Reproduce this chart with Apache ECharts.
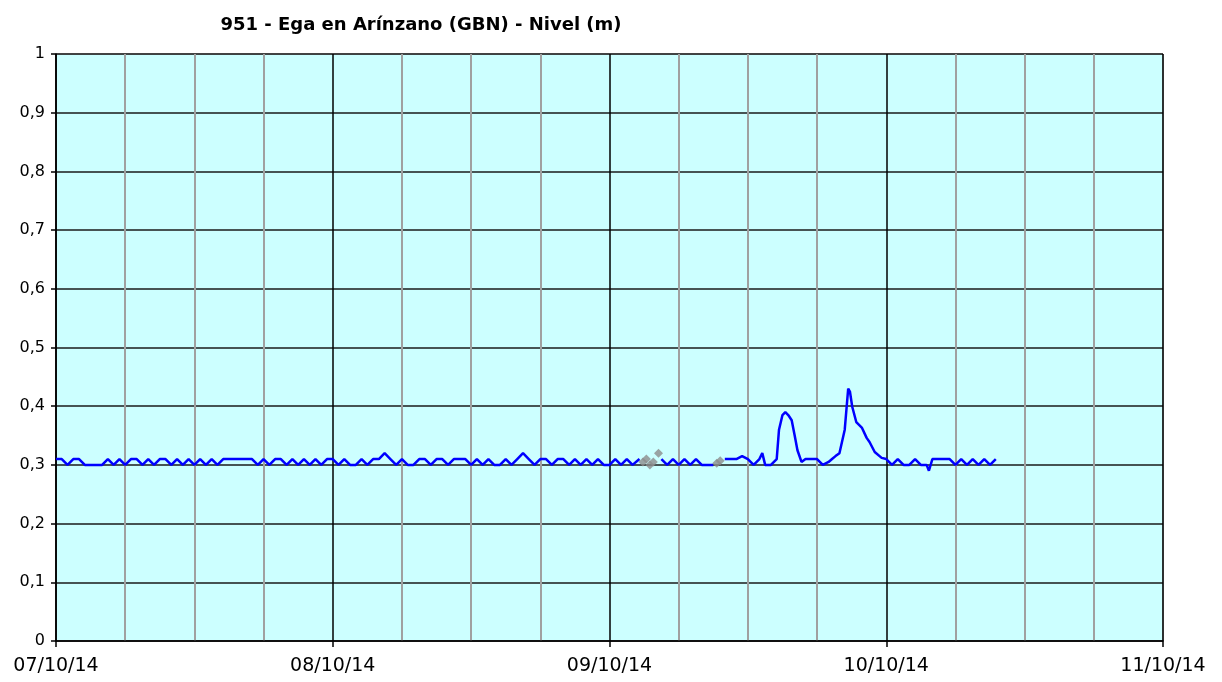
<!DOCTYPE html>
<html>
<head>
<meta charset="utf-8">
<script src="https://cdn.jsdelivr.net/npm/echarts@6/dist/echarts.min.js"></script>
<style>
  html, body { margin: 0; padding: 0; background: #fff; }
  #chart { width: 1222px; height: 682px; }
</style>
</head>
<body>
<div id="chart"></div>
<script>
// hours since 07/10/14 00:00, level in m
var day1 = [
  [0, 0.31], [0.5, 0.31], [1, 0.30], [1.5, 0.31], [2, 0.31], [2.5, 0.30], [3, 0.30], [3.5, 0.30],
  [4, 0.30], [4.5, 0.31], [5, 0.30], [5.5, 0.31], [6, 0.30], [6.5, 0.31], [7, 0.31], [7.5, 0.30],
  [8, 0.31], [8.5, 0.30], [9, 0.31], [9.5, 0.31], [10, 0.30], [10.5, 0.31], [11, 0.30], [11.5, 0.31],
  [12, 0.30], [12.5, 0.31], [13, 0.30], [13.5, 0.31], [14, 0.30], [14.5, 0.31], [15, 0.31], [15.5, 0.31],
  [16, 0.31], [16.5, 0.31], [17, 0.31], [17.5, 0.30], [18, 0.31], [18.5, 0.30], [19, 0.31], [19.5, 0.31],
  [20, 0.30], [20.5, 0.31], [21, 0.30], [21.5, 0.31], [22, 0.30], [22.5, 0.31], [23, 0.30], [23.5, 0.31]
];
var day2 = [
  [24, 0.31], [24.5, 0.30], [25, 0.31], [25.5, 0.30], [26, 0.30], [26.5, 0.31], [27, 0.30], [27.5, 0.31],
  [28, 0.31], [28.5, 0.32], [29, 0.31], [29.5, 0.30], [30, 0.31], [30.5, 0.30], [31, 0.30], [31.5, 0.31],
  [32, 0.31], [32.5, 0.30], [33, 0.31], [33.5, 0.31], [34, 0.30], [34.5, 0.31], [35, 0.31], [35.5, 0.31],
  [36, 0.30], [36.5, 0.31], [37, 0.30], [37.5, 0.31], [38, 0.30], [38.5, 0.30], [39, 0.31], [39.5, 0.30],
  [40, 0.31], [40.5, 0.32], [41, 0.31], [41.5, 0.30], [42, 0.31], [42.5, 0.31], [43, 0.30], [43.5, 0.31],
  [44, 0.31], [44.5, 0.30], [45, 0.31], [45.5, 0.30], [46, 0.31], [46.5, 0.30], [47, 0.31], [47.5, 0.30]
];
var day3 = [
  [48, 0.30], [48.5, 0.31], [49, 0.30], [49.5, 0.31], [50, 0.30], [50.6, 0.31], [50.8, null],
  [52.5, 0.31], [53, 0.30], [53.5, 0.31], [54, 0.30], [54.5, 0.31], [55, 0.30], [55.5, 0.31],
  [56, 0.30], [56.5, 0.30], [57, 0.30], [57.3, null],
  [58, 0.31], [58.5, 0.31], [59, 0.31], [59.5, 0.315], [60, 0.31], [60.5, 0.30], [61, 0.31], [61.25, 0.32],
  [61.5, 0.30], [62, 0.30], [62.5, 0.31], [62.7, 0.36], [63, 0.385], [63.25, 0.39], [63.5, 0.385],
  [63.8, 0.376], [64.05, 0.351], [64.3, 0.325], [64.65, 0.305], [65, 0.31], [65.5, 0.31], [66, 0.31],
  [66.5, 0.30], [67, 0.305], [67.3, 0.31], [67.6, 0.315], [67.94, 0.32], [68.4, 0.36], [68.7, 0.43],
  [68.85, 0.425], [69.05, 0.399], [69.4, 0.373], [69.9, 0.363], [70.3, 0.346], [70.55, 0.339],
  [71, 0.322], [71.6, 0.312]
];
var day4 = [
  [72, 0.31], [72.5, 0.30], [73, 0.31], [73.5, 0.30], [74, 0.30], [74.5, 0.31], [75, 0.30], [75.5, 0.30],
  [75.7, 0.29], [76, 0.31], [76.5, 0.31], [77, 0.31], [77.5, 0.31], [78, 0.30], [78.5, 0.31], [79, 0.30],
  [79.5, 0.31], [80, 0.30], [80.5, 0.31], [81, 0.30], [81.5, 0.31]
];
// gray (unvalidated) readings
var grayHours = [50.9, 51.2, 51.5, 51.8, 52.25, 57.3, 57.6];
var grayLevels = [0.305, 0.31, 0.30, 0.305, 0.32, 0.303, 0.307];

var dayLabels = ['07/10/14', '08/10/14', '09/10/14', '10/10/14', '11/10/14'];
var titleText = '951 - Ega en Arínzano (GBN) - Nivel (m)';

var levels = day1.concat(day2, day3, day4);
var grayPoints = grayHours.map(function (h, i) { return [h, grayLevels[i]]; });

var chart = echarts.init(document.getElementById('chart'), null, { renderer: 'canvas' });

var option = {
  animation: false,
  backgroundColor: '#ffffff',
  title: {
    text: titleText,
    left: 416,
    top: 11,
    textAlign: 'center',
    textStyle: { fontFamily: '"DejaVu Sans"', fontWeight: 'bold', fontSize: 18, color: '#000' }
  },
  grid: {
    left: 56, right: 59, top: 54, bottom: 41,
    show: true,
    backgroundColor: '#ccffff',
    borderColor: '#808080',
    borderWidth: 1
  },
  xAxis: {
    type: 'value',
    min: 0,
    max: 96,
    interval: 24,
    axisLine: { show: true, lineStyle: { color: '#000', width: 1.5 } },
    axisTick: { show: true, length: 6, lineStyle: { color: '#000', width: 1.5 } },
    axisLabel: {
      margin: 16,
      fontFamily: '"DejaVu Sans"', fontSize: 19, color: '#000',
      showMinLabel: true, showMaxLabel: true,
      formatter: function (v) { return dayLabels[Math.round(v / 24)]; }
    },
    splitLine: { show: true, lineStyle: { color: '#000', width: 1.5 } },
    minorTick: { show: false, splitNumber: 4 },
    minorSplitLine: { show: true, lineStyle: { color: '#a0a0a0', width: 2 } }
  },
  yAxis: {
    type: 'value',
    min: 0,
    max: 1,
    interval: 0.1,
    axisLine: { show: true, lineStyle: { color: '#000', width: 1.5 } },
    axisTick: { show: true, length: 5, lineStyle: { color: '#000', width: 1.5 } },
    axisLabel: {
      margin: 11,
      fontFamily: '"DejaVu Sans"', fontSize: 16, color: '#000',
      formatter: function (v) { return String(+v.toFixed(1)).replace('.', ','); }
    },
    splitLine: { show: true, lineStyle: { color: '#1a1a1a', width: 1.5 } }
  },
  series: [
    {
      name: 'Nivel',
      type: 'line',
      data: levels,
      showSymbol: false,
      connectNulls: false,
      lineStyle: { color: '#0000ff', width: 2.5 },
      z: 3
    },
    {
      name: 'Nivel (no validado)',
      type: 'scatter',
      data: grayPoints,
      symbol: 'diamond',
      symbolSize: 9,
      itemStyle: { color: '#8c8c8c' },
      z: 4
    }
  ]
};

chart.setOption(option);
</script>
</body>
</html>
